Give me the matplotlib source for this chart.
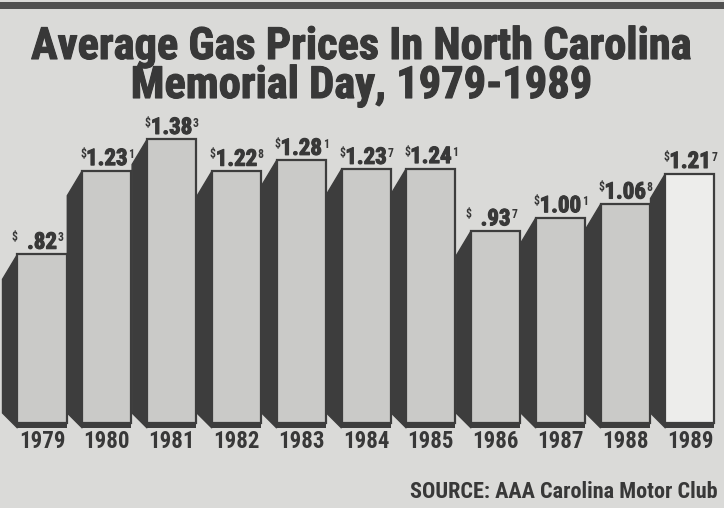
import matplotlib
matplotlib.use("Agg")
import matplotlib.pyplot as plt
import matplotlib.patheffects as pe
from matplotlib.patches import Polygon, Rectangle

# Memorial Day average gas price, dollars per gallon
years = ["1979", "1980", "1981", "1982", "1983", "1984",
         "1985", "1986", "1987", "1988", "1989"]
prices = [0.823, 1.231, 1.383, 1.228, 1.281, 1.237,
          1.241, 0.937, 1.001, 1.068, 1.217]

title_1 = "Average Gas Prices In North Carolina"
title_2 = "Memorial Day, 1979-1989"
source = "SOURCE: AAA Carolina Motor Club"

BG = "#dadad8"
FACE = "#cacac8"
LAST_FACE = "#ededeb"
DARK = "#3d3d3d"
INK = "#383838"
FONT = ["Roboto Condensed", "DejaVu Sans"]

W, H = 724, 508
PX_X = 64.8     # pixels per bar slot
PX_Y = 205.0    # pixels per dollar
BASE = 423      # pixel row of the zero line

fig = plt.figure(figsize=(W / 100, H / 100), dpi=100, facecolor=BG)
ax = fig.add_axes([0, 0, 1, (H - 100) / H])
ax.set_facecolor(BG)
ax.set_xlim(-42 / PX_X, (W - 42) / PX_X)
ax.set_ylim(-(H - BASE) / PX_Y, (BASE - 100) / PX_Y)
ax.axis("off")

x = list(range(len(years)))
face_w = 49 / PX_X
side_dx = 15 / PX_X
side_dy = 25 / PX_Y
foot_dy = 10 / PX_Y
shadow = 5 / PX_Y

faces = [FACE] * (len(years) - 1) + [LAST_FACE]

# dark left side of each bar
for xi, p in zip(x, prices):
    left = xi - face_w / 2
    side = Polygon([(left, p), (left - side_dx, p - side_dy),
                    (left - side_dx, foot_dy), (left, -shadow)],
                   closed=True, facecolor=DARK, edgecolor=DARK, lw=1)
    ax.add_patch(side)

# dark foot under each face
ax.bar(x, shadow, bottom=-shadow, width=face_w, color=DARK, zorder=2)
# front faces
ax.bar(x, prices, width=face_w, color=faces, edgecolor=DARK,
       linewidth=1.6, zorder=3)

heavy = [pe.withStroke(linewidth=0.8, foreground=INK)]

# value labels: small $, big price, small thousandths digit
for xi, p in zip(x, prices):
    mills = int(round(p * 1000))
    dollars, cents, tenth = mills // 1000, (mills // 10) % 100, mills % 10
    main = f"{dollars}.{cents:02d}" if dollars else f".{cents:02d}"
    t = ax.annotate(main, xy=(xi, p), xytext=(0, 4), textcoords="offset points",
                    ha="center", va="baseline", fontsize=16.5, fontweight="bold",
                    family=FONT, color=INK, zorder=4, path_effects=heavy)
    gap = 0 if dollars else -7
    ax.annotate("$", xy=(0, 1), xycoords=t, xytext=(gap, -0.5),
                textcoords="offset points", ha="right", va="top",
                fontsize=8.5, fontweight="bold", family=FONT, color=INK)
    ax.annotate(str(tenth), xy=(1, 1), xycoords=t, xytext=(0.5, -0.5),
                textcoords="offset points", ha="left", va="top",
                fontsize=8.5, fontweight="bold", family=FONT, color=INK)

# year labels
for xi, yr in zip(x, years):
    ax.text(xi, -(442 - BASE) / PX_Y, yr, ha="center", va="center",
            fontsize=16.5, fontweight="bold", family=FONT, color=INK)

# titles and source
fig.text(0.5, 1 - 59 / H, title_1, ha="center", va="baseline", fontsize=32,
         fontweight="bold", family=FONT, color=INK, path_effects=heavy)
fig.text(0.5, 1 - 98 / H, title_2, ha="center", va="baseline", fontsize=32,
         fontweight="bold", family=FONT, color=INK, path_effects=heavy)
fig.text(1 - 6 / W, 1 - 498 / H, source, ha="right", va="baseline",
         fontsize=16, fontweight="bold", family=FONT, color=INK)

# rule across the top
fig.patches.append(Rectangle((0, 1 - 9 / H), 1, 7 / H, transform=fig.transFigure,
                             facecolor="#505050", edgecolor="none"))

fig.savefig("out.png", dpi=100, facecolor=BG)
